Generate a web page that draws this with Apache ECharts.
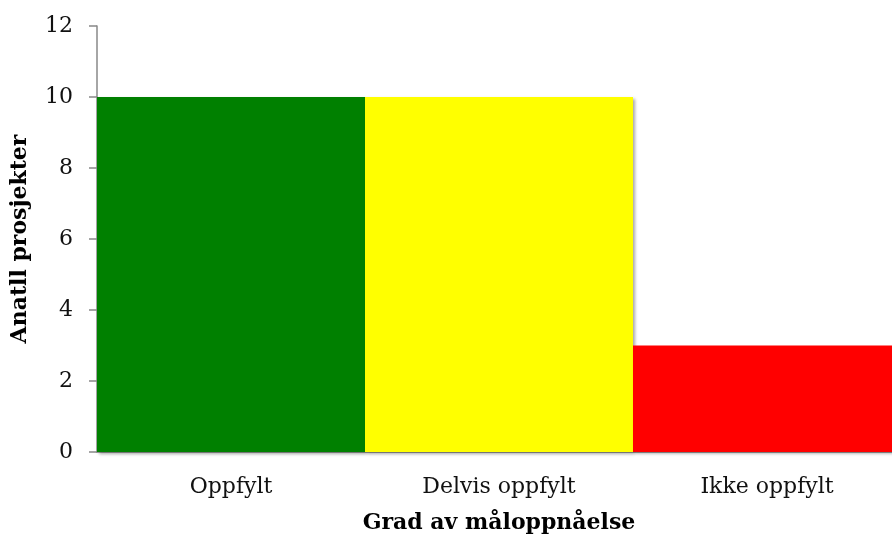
<!DOCTYPE html>
<html><head><meta charset="utf-8">
<script src="https://cdn.jsdelivr.net/npm/echarts@6/dist/echarts.min.js"></script>
<style>html,body{margin:0;padding:0;background:#fff}#c{width:892px;height:536px}</style>
</head><body><div id="c"></div>
<script>
const categories = ["Oppfylt", "Delvis oppfylt", "Ikke oppfylt"];
const values = [10, 10, 3];
const barColors = ["#008000", "#ffff00", "#ff0000"];
const yTicks = [0, 2, 4, 6, 8, 10, 12];
const xTitle = "Grad av måloppnåelse";
const yTitle = "Anatll prosjekter";

const font = "'DejaVu Serif', serif";
const chart = echarts.init(document.getElementById('c'), null, {renderer: 'canvas'});
chart.setOption({
  animation: false,
  grid: {left: 97, width: 804, top: 26, height: 426, containLabel: false, outerBoundsMode: 'none'},
  xAxis: {
    type: 'category', data: categories,
    axisLine: {lineStyle: {color: '#888', width: 1.5}},
    axisTick: {show: false},
    axisLabel: {color: '#111', fontFamily: font, fontSize: 22, margin: 24},
    name: xTitle, nameLocation: 'middle', nameGap: 60,
    nameTextStyle: {color: '#000', fontFamily: font, fontSize: 22, fontWeight: 'bold'}
  },
  yAxis: {
    type: 'value', min: yTicks[0], max: yTicks[yTicks.length - 1], interval: 2,
    axisLine: {show: true, lineStyle: {color: '#888', width: 1.5}},
    axisTick: {show: true, length: 8, lineStyle: {color: '#888', width: 1.5}},
    splitLine: {show: false},
    axisLabel: {color: '#111', fontFamily: font, fontSize: 22, margin: 24},
    name: yTitle, nameLocation: 'middle', nameGap: 66, nameRotate: 90,
    nameTextStyle: {color: '#000', fontFamily: font, fontSize: 22, fontWeight: 'bold'}
  },
  series: [{
    type: 'bar', barCategoryGap: '0%',
    data: values.map((v, i) => ({value: v, itemStyle: {color: barColors[i]}})),
    itemStyle: {shadowColor: 'rgba(0,0,0,0.35)', shadowBlur: 3, shadowOffsetX: 2, shadowOffsetY: 2}
  }]
});
</script></body></html>
